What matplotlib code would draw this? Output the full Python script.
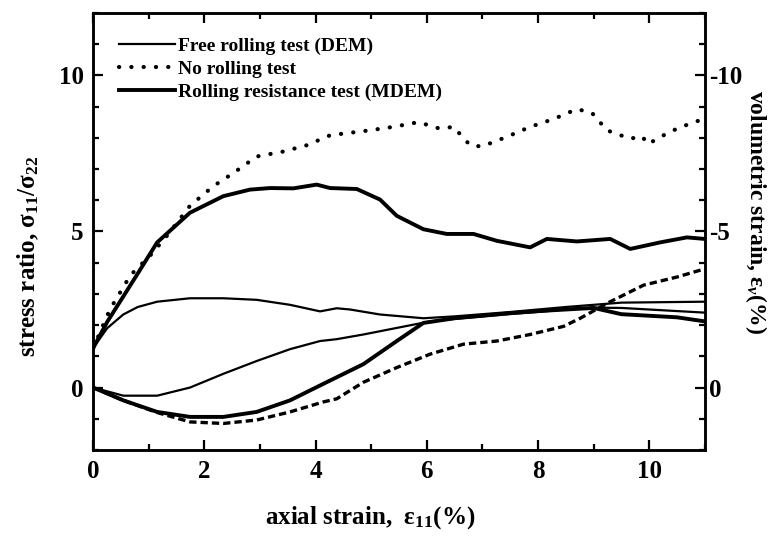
import matplotlib
matplotlib.use('Agg')
import matplotlib.pyplot as plt
from matplotlib.ticker import MultipleLocator

plt.rcParams['font.family'] = ['Liberation Serif', 'DejaVu Serif']
plt.rcParams['font.weight'] = 'bold'
plt.rcParams['axes.unicode_minus'] = False
plt.rcParams['mathtext.fontset'] = 'custom'
plt.rcParams['mathtext.rm'] = 'Liberation Serif:bold'
plt.rcParams['mathtext.it'] = 'Liberation Serif:italic:bold'
plt.rcParams['mathtext.bf'] = 'Liberation Serif:bold'

# ------------------------------------------------------------
# data (axial strain in %)
# ------------------------------------------------------------
# stress ratio curves (left axis)
x_free_sr = [0, 0.25, 0.54, 0.8, 1.15, 1.74, 2.34, 2.94, 3.54, 4.08, 4.38, 4.62,
             5.16, 5.94, 6.5, 7, 7.5, 8, 8.5, 9, 9.5, 10, 10.5, 11]
y_free_sr = [1.27, 1.9, 2.34, 2.58, 2.75, 2.86, 2.86, 2.81, 2.65, 2.44, 2.54, 2.5,
             2.34, 2.22, 2.28, 2.35, 2.42, 2.5, 2.58, 2.65, 2.72, 2.73, 2.74, 2.75]

x_norol_sr = [0, 0.3, 0.67, 1.03, 1.33, 1.74, 2.16, 2.52, 2.94, 3.42, 3.84, 4.26,
              4.98, 5.4, 5.85, 6.24, 6.48, 6.78, 6.99, 7.44, 7.86, 8.28, 8.7,
              8.97, 9.24, 9.66, 9.87, 9.98, 10.38, 10.8, 11]
y_norol_sr = [1.27, 2.5, 3.6, 4.24, 4.87, 5.82, 6.45, 6.87, 7.4, 7.56, 7.76, 8.08,
              8.24, 8.35, 8.5, 8.29, 8.35, 7.76, 7.72, 8.03, 8.35, 8.6, 8.92,
              8.8, 8.24, 7.97, 8.05, 7.8, 8.2, 8.5, 8.6]

x_mdem_sr = [0, 0.25, 0.52, 0.8, 1.15, 1.74, 2.34, 2.82, 3.18, 3.6, 4.02, 4.26,
             4.74, 5.16, 5.46, 5.94, 6.36, 6.84, 7.26, 7.86, 8.16, 8.7, 9.3,
             9.66, 10.2, 10.68, 11]
y_mdem_sr = [1.27, 2.1, 2.86, 3.65, 4.65, 5.6, 6.13, 6.34, 6.39, 6.38, 6.5, 6.39,
             6.36, 6.02, 5.5, 5.07, 4.92, 4.92, 4.7, 4.49, 4.76, 4.68, 4.76,
             4.44, 4.65, 4.81, 4.76]

# volumetric strain curves (right axis, %)
x_free_ev = [0, 0.54, 1.15, 1.74, 2.34, 2.94, 3.54, 4.08, 4.38, 4.86, 5.46, 6.06,
             6.5, 7, 7.5, 8, 8.5, 9, 9.5, 10, 10.5, 11]
y_free_ev = [0, 0.26, 0.26, 0, -0.44, -0.85, -1.23, -1.49, -1.55, -1.7, -1.91, -2.12,
             -2.2, -2.28, -2.36, -2.42, -2.5, -2.56, -2.55, -2.5, -2.45, -2.4]

x_mdem_ev = [0, 0.54, 1.15, 1.74, 2.34, 2.94, 3.54, 4.14, 4.38, 4.86, 5.46, 5.94,
             6.5, 7, 7.5, 8, 8.5, 9, 9.5, 10, 10.5, 11]
y_mdem_ev = [0, 0.41, 0.78, 0.94, 0.94, 0.78, 0.41, -0.12, -0.33, -0.75, -1.49, -2.07,
             -2.22, -2.3, -2.38, -2.45, -2.5, -2.55, -2.35, -2.3, -2.25, -2.12]

x_norol_ev = [0, 0.54, 1.15, 1.74, 2.34, 2.94, 3.54, 4.14, 4.38, 4.86, 5.46, 6.06,
              6.66, 7.26, 7.86, 8.46, 8.76, 9.3, 9.9, 10.5, 10.92, 11]
y_norol_ev = [0, 0.41, 0.8, 1.1, 1.15, 1.04, 0.78, 0.46, 0.36, -0.17, -0.64, -1.07,
              -1.39, -1.49, -1.7, -1.96, -2.22, -2.75, -3.28, -3.54, -3.76, -3.8]

labels = ["Free rolling test (DEM)", "No rolling test", "Rolling resistance test (MDEM)"]

# ------------------------------------------------------------
# plot
# ------------------------------------------------------------
fig = plt.figure(figsize=(7.77, 5.37), dpi=100)
ax = fig.add_axes([0.12, 0.162, 0.787, 0.814])
ax2 = ax.twinx()

thin, thick = 1.6, 2.8
l1, = ax.plot(x_free_sr, y_free_sr, color='black', lw=thin)
l2, = ax.plot(x_norol_sr, y_norol_sr, color='black', lw=3.0, ls=(0, (0.05, 2.9)),
              dash_capstyle='round')
l3, = ax.plot(x_mdem_sr, y_mdem_sr, color='black', lw=thick)

ax2.plot(x_free_ev, y_free_ev, color='black', lw=thin)
ax2.plot(x_mdem_ev, y_mdem_ev, color='black', lw=thick)
ax2.plot(x_norol_ev, y_norol_ev, color='black', lw=2.4, ls=(0, (2.2, 1.2)))

ax.set_xlim(0, 11)
ax.set_ylim(-2, 12)
ax2.set_ylim(2, -12)

ax.xaxis.set_major_locator(MultipleLocator(2))
ax.xaxis.set_minor_locator(MultipleLocator(1))
ax.yaxis.set_major_locator(MultipleLocator(5))
ax.yaxis.set_minor_locator(MultipleLocator(1))
ax2.yaxis.set_major_locator(MultipleLocator(5))
ax2.yaxis.set_minor_locator(MultipleLocator(1))
ax2.set_yticks([-10, -5, 0])

ax.tick_params(which='both', direction='in', top=True, width=1.6, labelsize=18, pad=7)
ax.tick_params(which='major', length=7)
ax.tick_params(which='minor', length=4.5)
ax.tick_params(axis='y', right=False)
ax2.tick_params(which='both', direction='in', width=1.6, labelsize=18, pad=3)
ax2.tick_params(which='major', length=7)
ax2.tick_params(which='minor', length=4.5)
for a in (ax, ax2):
    for s in a.spines.values():
        s.set_linewidth(1.8)

# axis titles, placed where the reference has them
fig.text(370 / 777, 1 - 518 / 537, "axial strain,  ε$_{11}$(%)", fontsize=18,
         ha='center', va='center')
fig.text(28 / 777, 1 - 256 / 537, "stress ratio, σ$_{11}$/σ$_{22}$", fontsize=18,
         rotation=90, ha='center', va='center')
fig.text(756 / 777, 1 - 212 / 537, "volumetric strain, ε$_v$(%)", fontsize=17,
         rotation=270, ha='center', va='center')

ax.legend([l1, l2, l3], labels, loc='upper left', frameon=False, fontsize=14,
          handlelength=2.9, handletextpad=0.15, labelspacing=0.28,
          borderaxespad=0.3, bbox_to_anchor=(0.02, 0.975))

plt.savefig("out.png", dpi=100)
plt.close()
